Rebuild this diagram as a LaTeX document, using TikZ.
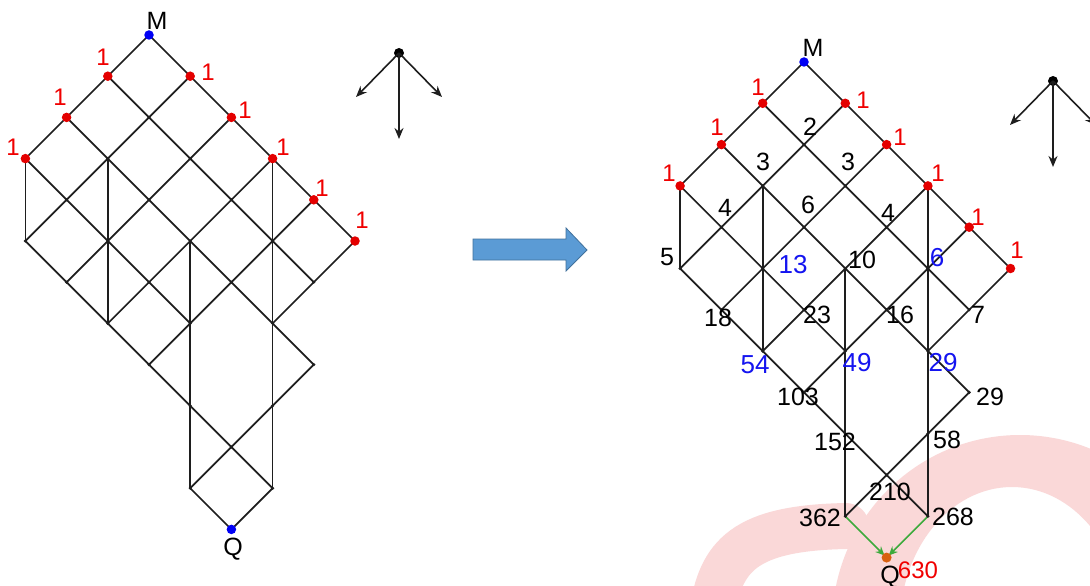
\documentclass[tikz,border=0pt]{standalone}
\usepackage{fontspec}
\setmainfont{Liberation Sans}
\usetikzlibrary{arrows.meta,calc}
\definecolor{edgecol}{RGB}{30,30,30}
\definecolor{dotred}{RGB}{228,0,0}
\definecolor{lblred}{RGB}{240,0,0}
\definecolor{dotblue}{RGB}{0,0,245}
\definecolor{lblblue}{RGB}{20,20,240}
\definecolor{qorange}{RGB}{216,96,16}
\definecolor{arrgreen}{RGB}{60,170,60}
\definecolor{wmpink}{RGB}{250,216,216}
\definecolor{blockfill}{RGB}{91,155,213}
\definecolor{blockdraw}{RGB}{65,113,156}
\tikzset{
  edge/.style={line width=1.7pt, draw=edgecol, line cap=round, line join=round},
  jdot/.style={circle, fill=edgecol, inner sep=0pt, minimum size=3.4pt},
  rdot/.style={circle, fill=dotred, inner sep=0pt, minimum size=9.5pt},
  bdot/.style={circle, fill=dotblue, inner sep=0pt, minimum size=9.5pt},
  odot/.style={circle, fill=qorange, inner sep=0pt, minimum size=10pt},
  lbl/.style={inner sep=0pt, text=black, font=\fontsize{25}{28}\selectfont},
  rlbl/.style={inner sep=0pt, text=lblred, font=\fontsize{24}{27}\selectfont},
  blbl/.style={inner sep=0pt, text=lblblue, font=\fontsize{26}{29}\selectfont},
  garrow/.style={line width=1.5pt, draw=arrgreen, -{Stealth[length=9pt,width=8pt]}, shorten >=3pt},
  karrow/.style={line width=1.6pt, draw=edgecol, -{Stealth[length=11pt,width=9pt]}},
  cdot/.style={circle, fill=black, inner sep=0pt, minimum size=10pt}
}
\newcommand{\latnodes}{0/0,1/0,0/1,2/0,1/1,0/2,3/0,2/1,1/2,0/3,3/1,2/2,1/3,0/4,4/1,3/2,2/3,1/4,0/5,4/2,3/3,2/4,1/5,4/3,3/4,2/5,4/4,2/6,4/5,3/6,4/6,5/6,4/7,5/7}
\newcommand{\latedges}[1]{%
  % down-left chains
  \draw[edge] (#1-0-0) -- (#1-1-0) -- (#1-2-0) -- (#1-3-0);
  \draw[edge] (#1-0-1) -- (#1-1-1) -- (#1-2-1) -- (#1-3-1) -- (#1-4-1);
  \draw[edge] (#1-0-2) -- (#1-1-2) -- (#1-2-2) -- (#1-3-2) -- (#1-4-2);
  \draw[edge] (#1-0-3) -- (#1-1-3) -- (#1-2-3) -- (#1-3-3) -- (#1-4-3);
  \draw[edge] (#1-0-4) -- (#1-1-4) -- (#1-2-4) -- (#1-3-4) -- (#1-4-4);
  \draw[edge] (#1-0-5) -- (#1-1-5) -- (#1-2-5);
  \draw[edge] (#1-2-6) -- (#1-3-6) -- (#1-4-6) -- (#1-5-6);
  % down-right chains
  \draw[edge] (#1-0-0) -- (#1-0-1) -- (#1-0-2) -- (#1-0-3) -- (#1-0-4) -- (#1-0-5);
  \draw[edge] (#1-1-0) -- (#1-1-1) -- (#1-1-2) -- (#1-1-3) -- (#1-1-4) -- (#1-1-5);
  \draw[edge] (#1-2-0) -- (#1-2-1) -- (#1-2-2) -- (#1-2-3) -- (#1-2-4) -- (#1-2-5) -- (#1-2-6);
  \draw[edge] (#1-3-0) -- (#1-3-1) -- (#1-3-2) -- (#1-3-3) -- (#1-3-4);
  \draw[edge] (#1-4-1) -- (#1-4-2) -- (#1-4-3) -- (#1-4-4) -- (#1-4-5) -- (#1-4-6) -- (#1-4-7);
  % verticals
  \draw[edge] (#1-3-0) -- (#1-4-1);
  \draw[edge] (#1-2-1) -- (#1-3-2) -- (#1-4-3);
  \draw[edge] (#1-2-3) -- (#1-3-4) -- (#1-4-5) -- (#1-5-6);
  \draw[edge] (#1-0-3) -- (#1-1-4) -- (#1-2-5) -- (#1-3-6) -- (#1-4-7);
}
\newcommand{\latdots}[1]{%
  \foreach \i/\j in {1/1,1/2,2/1,2/2,1/3,3/1,4/1,3/2,2/3,1/4,4/2,3/3,2/4,1/5,4/3,3/4,2/5,4/4,2/6,4/5,3/6,4/6,5/6,4/7}
    \node[jdot] (#1-jd-\i-\j) at (#1-\i-\j) {};
  \foreach \i/\j in {1/0,2/0,3/0,0/1,0/2,0/3,0/4,0/5}
    \node[rdot] (#1-rd-\i-\j) at (#1-\i-\j) {};
}
\begin{document}
\begin{tikzpicture}[x=1pt,y=-1pt]
\useasboundingbox (0,0) rectangle (1090,586);
\clip (0,0) rectangle (1090,586);
\fill[white] (0,0) rectangle (1090,586);
% watermark (faint background)
\fill[wmpink, even odd rule]
  (832,625) arc[start angle=180, end angle=360, x radius=188, y radius=190] -- cycle
  (900,625) arc[start angle=180, end angle=360, x radius=112, y radius=138] -- cycle;
\draw[wmpink, line width=46pt, line cap=round] (712,615) .. controls (720,555) and (745,528) .. (846,526);

% lattice points
\begin{scope}[shift={(149pt,-35pt)}, x={(-41.2pt,-41.2pt)}, y={(41.2pt,-41.2pt)}]
  \foreach \i/\j in \latnodes \coordinate (L-\i-\j) at (\i,\j);
\end{scope}
\begin{scope}[shift={(804pt,-62pt)}, x={(-41.3pt,-41.3pt)}, y={(41.3pt,-41.3pt)}]
  \foreach \i/\j in \latnodes \coordinate (R-\i-\j) at (\i,\j);
\end{scope}

% left diagram
\latedges{L}
\draw[edge] (L-5-6) -- (L-5-7);
\draw[edge] (L-4-7) -- (L-5-7);
\latdots{L}
\node[bdot] (LM) at (L-0-0) {};
\node[bdot] (LQ) at (L-5-7) {};
\node[lbl] (LMt) at (157,21) {M};
\node[lbl] (LQt) at (233,549) {Q};
\node[rlbl] (l10) at (103,57) {1};
\node[rlbl] (l01) at (208,72) {1};
\node[rlbl] (l20) at (60,97) {1};
\node[rlbl] (l02) at (245,110) {1};
\node[rlbl] (l30) at (13,147) {1};
\node[rlbl] (l03) at (283,147) {1};
\node[rlbl] (l04) at (322,188) {1};
\node[rlbl] (l05) at (362,220) {1};

% right diagram
\latedges{R}
\draw[garrow] (R-5-6) -- (R-5-7);
\draw[garrow] (R-4-7) -- (R-5-7);
\latdots{R}
\node[bdot] (RM) at (R-0-0) {};
\node[odot] (RQ) at (R-5-7) {};
\node[lbl] (RMt) at (813,48) {M};
\node[lbl] (RQt) at (890,577) {Q};
\node[rlbl] (r10) at (758,87) {1};
\node[rlbl] (r01) at (863,100) {1};
\node[rlbl] (r20) at (717,127) {1};
\node[rlbl] (r02) at (900,137) {1};
\node[rlbl] (r30) at (669,173) {1};
\node[rlbl] (r03) at (938,173) {1};
\node[rlbl] (r04) at (978,217) {1};
\node[rlbl] (r05) at (1017,250) {1};
\node[lbl] (v11) at (810,127) {2};
\node[lbl] (v21) at (763,162) {3};
\node[lbl] (v12) at (848,162) {3};
\node[lbl] (v31) at (725,208) {4};
\node[lbl] (v22) at (808,205) {6};
\node[lbl] (v13) at (888,213) {4};
\node[lbl] (v41) at (667,257) {5};
\node[blbl] (v32) at (793,265) {13};
\node[lbl] (v23) at (862,260) {10};
\node[blbl] (v14) at (937,258) {6};
\node[lbl] (v42) at (718,318) {18};
\node[lbl] (v33) at (817,315) {23};
\node[lbl] (v24) at (900,315) {16};
\node[lbl] (v15) at (978,315) {7};
\node[blbl] (v43) at (755,365) {54};
\node[blbl] (v34) at (857,363) {49};
\node[blbl] (v25) at (943,363) {29};
\node[lbl] (v44) at (798,397) {103};
\node[lbl] (v26) at (990,397) {29};
\node[lbl] (v45) at (835,442) {152};
\node[lbl] (v36) at (947,440) {58};
\node[lbl] (v46) at (890,492) {210};
\node[lbl] (v56) at (820,518) {362};
\node[lbl] (v47) at (953,517) {268};
\node[rlbl] (v57) at (918,570) {630};

% block arrow
\draw[blockdraw, fill=blockfill, line width=0.8pt, line join=miter]
  (473,239) -- (566,239) -- (566,228) -- (587,250) -- (566,271) -- (566,260) -- (473,260) -- cycle;

% direction keys
\node[cdot] (k1) at (399,53) {};
\coordinate (k1l) at (356,97);
\coordinate (k1d) at (399,139);
\coordinate (k1r) at (442,97);
\draw[karrow] (k1.center) -- (k1l);
\draw[karrow] (k1.center) -- (k1d);
\draw[karrow] (k1.center) -- (k1r);
\node[cdot] (k2) at (1053,81) {};
\coordinate (k2l) at (1010,125);
\coordinate (k2d) at (1053,167);
\coordinate (k2r) at (1096,125);
\draw[karrow] (k2.center) -- (k2l);
\draw[karrow] (k2.center) -- (k2d);
\draw[karrow] (k2.center) -- (k2r);
\end{tikzpicture}
\end{document}
